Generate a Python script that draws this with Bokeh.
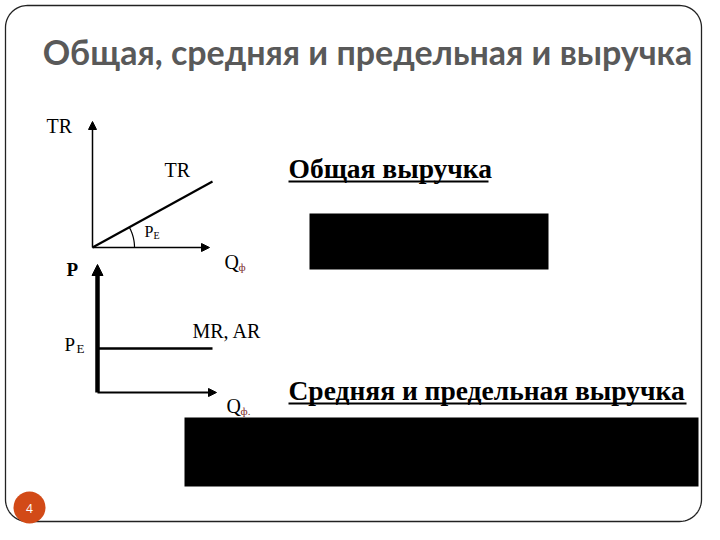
import numpy as np
from bokeh.plotting import figure
from bokeh.models import Range1d, Arrow, NormalHead
from bokeh.core.properties import value
from bokeh.embed import file_html
from bokeh.resources import INLINE

# ---- content ----
title_text = "Общая, средняя и предельная и выручка"
heading_total = "Общая выручка"
heading_avg = "Средняя и предельная выручка"
page_number = "4"

# economic model: perfectly competitive firm, constant price P_E
quantity = [0, 10]
price_e = 5.5
total_revenue = [q * price_e for q in quantity]      # TR = P_E * Q
mr_ar = [price_e, price_e]                            # MR = AR = P_E

# ---- figure (1 data unit = 1 pixel) ----
W, H = 704, 524
p = figure(width=W, height=H, x_range=Range1d(0, W), y_range=Range1d(H, 0),
           output_backend="svg", toolbar_location=None, min_border=0)
p.axis.visible = False
p.grid.visible = False
p.outline_line_color = None
p.background_fill_color = "white"
p.border_fill_color = "white"

# slide frame with rounded corners
L, R, T, B, rad = 5, W - 3, 5, H - 3, 22
xs, ys = [], []
for cx, cy, a0, a1 in [(L + rad, T + rad, np.pi, np.pi / 2),
                       (R - rad, T + rad, np.pi / 2, 0),
                       (R - rad, B - rad, 0, -np.pi / 2),
                       (L + rad, B - rad, -np.pi / 2, -np.pi)]:
    a = np.linspace(a0, a1, 20)
    xs += list(cx + rad * np.cos(a)); ys += list(cy - rad * np.sin(a))
xs.append(xs[0]); ys.append(ys[0])
p.line(xs, ys, line_color="#222222", line_width=1.3)

# title
p.text(x=[367], y=[51], text=[title_text], text_font=value("Lato"), text_font_style="bold",
       text_font_size="34px", text_color="#595959", text_align="center", text_baseline="middle")

serif = value("Liberation Serif")

def label(x, y, s, size, color="black", bold=False):
    p.text(x=[x], y=[y], text=[s], text_font=serif, text_font_size=size,
           text_font_style="bold" if bold else "normal",
           text_baseline="middle", text_color=color)

# ---- diagram 1: total revenue ----
ox1, oy1, sx1, sy1 = 92, 247, 12.0, 1.2
p.add_layout(Arrow(end=NormalHead(size=8, fill_color="black", line_color="black"),
                   x_start=ox1, y_start=oy1, x_end=ox1, y_end=121, line_width=1.5))
p.add_layout(Arrow(end=NormalHead(size=8, fill_color="black", line_color="black"),
                   x_start=ox1, y_start=oy1, x_end=209, y_end=oy1, line_width=1.5))
p.line([ox1 + q * sx1 for q in quantity], [oy1 - v * sy1 for v in total_revenue],
       line_color="black", line_width=2.2)
theta = np.arctan2(total_revenue[1] * sy1, quantity[1] * sx1)
aa = np.linspace(0, theta, 30)
p.line(ox1 + 42 * np.cos(aa), oy1 - 42 * np.sin(aa), line_color="black", line_width=1.2)

label(46, 125, "TR", "20px")
label(164, 169, "TR", "20px")
label(144, 231, "P", "16px")
label(153, 235, "E", "10px")
label(224, 261, "Q", "20px")
label(238, 266, "ф", "11px", color="#7a2a2a")

# ---- diagram 2: average and marginal revenue ----
ox2, oy2, sx2, sy2 = 97, 392, 11.5, 8.0
p.add_layout(Arrow(end=NormalHead(size=11, fill_color="black", line_color="black"),
                   x_start=ox2, y_start=oy2, x_end=ox2, y_end=264, line_width=4.5))
p.add_layout(Arrow(end=NormalHead(size=8, fill_color="black", line_color="black"),
                   x_start=ox2, y_start=oy2, x_end=216, y_end=oy2, line_width=2))
p.line([ox2 + q * sx2 for q in quantity], [oy2 - v * sy2 for v in mr_ar],
       line_color="black", line_width=2.5)

label(66, 269, "P", "19px", bold=True)
label(64, 344, "P", "19px")
label(76, 348, "E", "13px")
label(192, 330, "MR, AR", "20px")
label(226, 405, "Q", "20px")
label(240, 410, "ф.", "11px", color="#7a2a2a")

# ---- right-hand headings and boxes ----
p.text(x=[288], y=[168], text=[heading_total], text_font=serif, text_font_style="bold",
       text_font_size="27.5px", text_baseline="middle", text_color="black")
p.line([288, 488], [181, 181], line_color="black", line_width=2)
p.quad(left=[309], right=[548], top=[213], bottom=[269], fill_color="black", line_color=None)

p.text(x=[288], y=[390], text=[heading_avg], text_font=serif, text_font_style="bold",
       text_font_size="27.5px", text_baseline="middle", text_color="black")
p.line([288, 686], [403, 403], line_color="black", line_width=2)
p.quad(left=[184], right=[698], top=[417], bottom=[486], fill_color="black", line_color=None)

# page number badge
p.circle(x=[29], y=[507], radius=16, fill_color="#D24A17", line_color=None)
p.text(x=[29], y=[508], text=[page_number], text_font=value("Open Sans"), text_font_size="12px",
       text_align="center", text_baseline="middle", text_color="white")

open("out.html", "w").write(file_html(p, INLINE))
